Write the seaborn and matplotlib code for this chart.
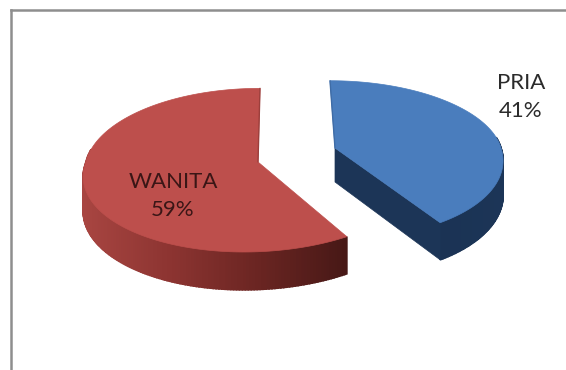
import numpy as np
import matplotlib
matplotlib.use("Agg")
import matplotlib.pyplot as plt
from matplotlib.patches import Polygon
import seaborn as sns

categories = ["PRIA", "WANITA"]
shares = [41, 59]
top_colors = ["#4a7dbd", "#bd4f4c"]
side_ramps = [["#1b3455", "#1a3253", "#1c3557"],
              ["#a84541", "#8c3431", "#6a2522", "#471816"]]
edge_colors = ["#3f6ca6", "#9c3f3c"]

sns.set_theme(style="white")
plt.rcParams["font.family"] = ["Lato", "DejaVu Sans"]

# Per-slice projection: apex, radii, lean of the back and front half of the disc
geometry = {
    "PRIA": dict(apex=(335, 148), rx=166, ry_back=74, ry_front=81, back=-5, front=-9.5,
                 label=(521, 97), tc="#2b2b2b"),
    "WANITA": dict(apex=(258, 162), rx=172, ry_back=81, ry_front=81, back=2, front=14,
                   label=(173, 196), tc="#3a1616"),
}
PERSPECTIVE = 0.10
DEPTH = 34

def project(theta, g):
    """Map clockwise-from-north angles on the unit disc to canvas pixels."""
    sx, cy = np.sin(theta), np.cos(theta)
    s = 1 / (1 + PERSPECTIVE * cy)
    lean = np.where(cy > 0, g["back"], g["front"]) * cy
    ry = np.where(cy > 0, g["ry_back"], g["ry_front"])
    return g["apex"][0] + g["rx"] * sx * s + lean, g["apex"][1] - ry * cy * s, s

fig = plt.figure(figsize=(5.66, 3.70), dpi=100)
ax = fig.add_axes([11 / 566, 0, 555 / 566, 360 / 370])
ax.set_xlim(11, 566)
ax.set_ylim(370, 10)
ax.set_xticks([])
ax.set_yticks([])
for name, spine in ax.spines.items():
    spine.set_visible(name in ("left", "top"))
    spine.set_color("#8e8e8e")
    spine.set_linewidth(1.8)

start = 0.0
for name, share, top, ramp, edge in zip(categories, shares, top_colors, side_ramps, edge_colors):
    g = geometry[name]
    end = start + 2 * np.pi * share / sum(shares)
    theta = np.linspace(start, end, 240)
    x, y, s = project(theta, g)
    ybot = y + DEPTH * s
    ax_, ay_ = g["apex"]

    # Rim wall on the viewer-facing part of the arc, shaded left to right
    ramp_cols = sns.blend_palette(ramp, 256)
    span_lo, span_hi = x.min(), x.max()
    for i in range(len(theta) - 1):
        if np.cos(theta[i]) > 0.15:
            continue
        c = ramp_cols[int(255 * (x[i] - span_lo) / (span_hi - span_lo))]
        ax.add_patch(Polygon([(x[i], y[i]), (x[i + 1], y[i + 1]), (x[i + 1], ybot[i + 1]), (x[i], ybot[i])],
                             facecolor=c, edgecolor=c, lw=1.2, zorder=2))

    # A slice under half the disc shows its closing cut face
    if share < 50:
        c = ramp[-1]
        ax.add_patch(Polygon([(ax_, ay_), (x[-1], y[-1]), (x[-1], ybot[-1]), (ax_, ay_ + DEPTH)],
                             facecolor=c, edgecolor=c, lw=0.5, zorder=2.5))

    ax.add_patch(Polygon(np.column_stack([np.r_[ax_, x], np.r_[ay_, y]]), closed=True,
                         facecolor=top, edgecolor=top, lw=0.5, zorder=3))

    # Darker sliver along the straight edge that runs to the back of the disc
    k = int(np.argmin(y))
    ax.plot([x[k], ax_], [y[k], ay_], color=edge, lw=1.0, zorder=3.5, solid_capstyle="round")

    ax.text(g["label"][0], g["label"][1], f"{name}\n{share}%", ha="center", va="center",
            fontsize=16, color=g["tc"], linespacing=1.45, zorder=4)
    start = end

fig.savefig("out.png", dpi=100, facecolor="white")
